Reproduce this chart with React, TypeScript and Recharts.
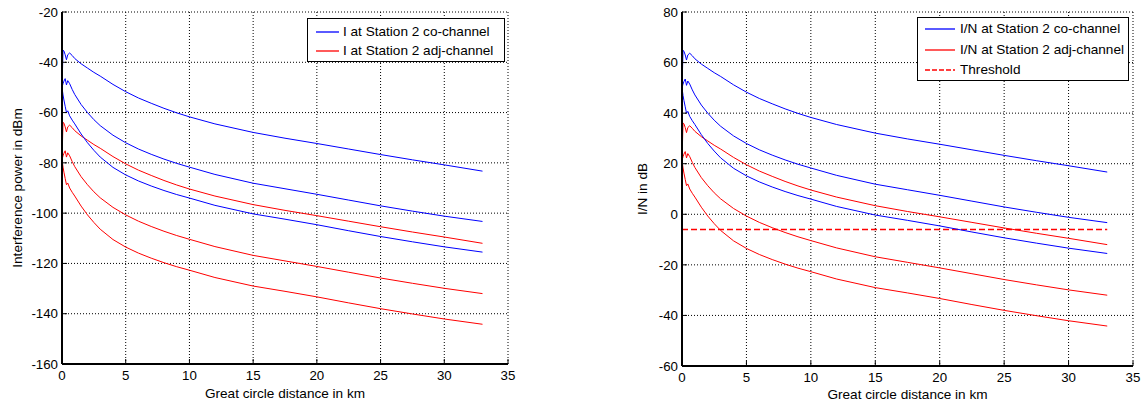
import React from 'react';
import { LineChart, Line, XAxis, YAxis, CartesianGrid, Legend } from 'recharts';

// Great circle distance (km)
const DISTANCE_KM = [0, 0.08, 0.15, 0.25, 0.35, 0.45, 0.6, 0.8, 1, 1.5, 2, 2.5, 3, 4, 5, 6, 7, 8, 9, 10, 12, 15, 17.5, 20, 22.5, 25, 27.5, 30, 33];

// Interference power at Station 2 (dBm) - co-channel (three cases)
const I_CO_1 = [-50, -35.2, -35.5, -37, -39, -37, -36.3, -37.3, -38.5, -40.6, -42.3, -44, -45.5, -48.8, -51.7, -54.2, -56.3, -58.3, -60.1, -61.7, -64.5, -67.9, -70.2, -72.3, -74.5, -76.7, -78.8, -80.8, -83.3];
const I_CO_2 = [-50, -48.5, -47.5, -46.5, -49, -47.3, -48.5, -50.8, -52.8, -56.8, -60, -62.8, -65.2, -69, -72, -74.5, -76.6, -78.5, -80.2, -81.7, -84.6, -88.1, -90.3, -92.5, -94.8, -97.1, -99.2, -101.2, -103.3];
const I_CO_3 = [-50, -53, -55, -57.5, -60, -59.3, -61.3, -63, -64.5, -68.5, -72, -75, -77.7, -81.8, -84.8, -87.2, -89.2, -91, -92.6, -94, -96.9, -100.3, -102.4, -104.6, -107, -109.3, -111.4, -113.4, -115.5];
// Interference power at Station 2 (dBm) - adjacent channel
const I_ADJ_1 = [-78.7, -63.9, -64.2, -65.7, -67.7, -65.7, -65.0, -66.0, -67.2, -69.3, -71.0, -72.7, -74.2, -77.5, -80.4, -82.9, -85.0, -87.0, -88.8, -90.4, -93.2, -96.6, -98.9, -101.0, -103.2, -105.4, -107.5, -109.5, -112.0];
const I_ADJ_2 = [-78.7, -77.2, -76.2, -75.2, -77.7, -76.0, -77.2, -79.5, -81.5, -85.5, -88.7, -91.5, -93.9, -97.7, -100.7, -103.2, -105.3, -107.2, -108.9, -110.4, -113.3, -116.8, -119.0, -121.2, -123.5, -125.8, -127.9, -129.9, -132.0];
const I_ADJ_3 = [-78.7, -81.7, -83.7, -86.2, -88.7, -88.0, -90.0, -91.7, -93.2, -97.2, -100.7, -103.7, -106.4, -110.5, -113.5, -115.9, -117.9, -119.7, -121.3, -122.7, -125.6, -129.0, -131.1, -133.3, -135.7, -138.0, -140.1, -142.1, -144.2];

// I/N at Station 2 (dB)
const IN_CO_1 = [50, 64.8, 64.5, 63, 61, 63, 63.7, 62.7, 61.5, 59.4, 57.7, 56, 54.5, 51.2, 48.3, 45.8, 43.7, 41.7, 39.9, 38.3, 35.5, 32.1, 29.8, 27.7, 25.5, 23.3, 21.2, 19.2, 16.7];
const IN_CO_2 = [50, 51.5, 52.5, 53.5, 51, 52.7, 51.5, 49.2, 47.2, 43.2, 40, 37.2, 34.8, 31, 28, 25.5, 23.4, 21.5, 19.8, 18.3, 15.4, 11.9, 9.7, 7.5, 5.2, 2.9, 0.8, -1.2, -3.3];
const IN_CO_3 = [50, 47, 45, 42.5, 40, 40.7, 38.7, 37, 35.5, 31.5, 28, 25, 22.3, 18.2, 15.2, 12.8, 10.8, 9, 7.4, 6, 3.1, -0.3, -2.4, -4.6, -7, -9.3, -11.4, -13.4, -15.5];
const IN_ADJ_1 = [21.3, 36.1, 35.8, 34.3, 32.3, 34.3, 35.0, 34.0, 32.8, 30.7, 29.0, 27.3, 25.8, 22.5, 19.6, 17.1, 15.0, 13.0, 11.2, 9.6, 6.8, 3.4, 1.1, -1.0, -3.2, -5.4, -7.5, -9.5, -12.0];
const IN_ADJ_2 = [21.3, 22.8, 23.8, 24.8, 22.3, 24.0, 22.8, 20.5, 18.5, 14.5, 11.3, 8.5, 6.1, 2.3, -0.7, -3.2, -5.3, -7.2, -8.9, -10.4, -13.3, -16.8, -19.0, -21.2, -23.5, -25.8, -27.9, -29.9, -32.0];
const IN_ADJ_3 = [21.3, 18.3, 16.3, 13.8, 11.3, 12.0, 10.0, 8.3, 6.8, 2.8, -0.7, -3.7, -6.4, -10.5, -13.5, -15.9, -17.9, -19.7, -21.3, -22.7, -25.6, -29.0, -31.1, -33.3, -35.7, -38.0, -40.1, -42.1, -44.2];

const THRESHOLD_DIST = [0, 33];
const THRESHOLD_DB = [-6, -6];

const X_TICKS = [0, 5, 10, 15, 20, 25, 30, 35];
const Y_TICKS_LEFT = [-160, -140, -120, -100, -80, -60, -40, -20];
const Y_TICKS_RIGHT = [-60, -40, -20, 0, 20, 40, 60, 80];

const LEFT_NAMES = ['I at Station 2 co-channel', 'I at Station 2 adj-channel'];
const RIGHT_NAMES = ['I/N at Station 2 co-channel', 'I/N at Station 2 adj-channel', 'Threshold'];

const leftRows = DISTANCE_KM.map((d, i) => ({
  d, co1: I_CO_1[i], co2: I_CO_2[i], co3: I_CO_3[i], adj1: I_ADJ_1[i], adj2: I_ADJ_2[i], adj3: I_ADJ_3[i],
}));
const rightRows = DISTANCE_KM.map((d, i) => ({
  d, co1: IN_CO_1[i], co2: IN_CO_2[i], co3: IN_CO_3[i], adj1: IN_ADJ_1[i], adj2: IN_ADJ_2[i], adj3: IN_ADJ_3[i],
}));
const thresholdRows = THRESHOLD_DIST.map((d, i) => ({ d, thr: THRESHOLD_DB[i] }));

const FONT = '"Liberation Sans", Arial, Helvetica, sans-serif';
const BLUE = '#0000ff';
const RED = '#ff0000';
const tickStyle = { fill: '#000', fontSize: 13.3, fontFamily: FONT };

const makeLegend = (order: string[], opts: any) => (props: any) => {
  const items = (props.payload || [])
    .filter((p: any) => order.indexOf(p.value) >= 0)
    .sort((a: any, b: any) => order.indexOf(a.value) - order.indexOf(b.value));
  return (
    <div style={{
      width: opts.width, height: opts.height, boxSizing: 'border-box', border: '1px solid #000',
      background: '#fff', paddingTop: opts.padTop, fontFamily: FONT, fontSize: 13.6, color: '#000',
    }}>
      {items.map((p: any) => {
        const ly = Math.round(opts.rowH / 2);
        return (
          <div key={p.value} style={{ display: 'flex', alignItems: 'center', height: opts.rowH, whiteSpace: 'nowrap' }}>
            <svg width={opts.padLeft + opts.lineLen + opts.gap} height={opts.rowH} style={{ display: 'block', flex: 'none' }}>
              <line x1={opts.padLeft} x2={opts.padLeft + opts.lineLen} y1={ly} y2={ly}
                stroke={p.color} strokeWidth={1.3}
                strokeDasharray={p.payload && p.payload.strokeDasharray ? '5 2' : undefined} />
            </svg>
            <span style={{ lineHeight: opts.rowH + 'px' }}>{p.value}</span>
          </div>
        );
      })}
    </div>
  );
};

const yLabel = (text: string, dx: number) => (props: any) => {
  const vb = props.viewBox || {};
  const cx = vb.x + dx;
  const cy = vb.y + vb.height / 2;
  return (
    <text x={cx} y={cy} transform={`rotate(-90, ${cx}, ${cy})`} textAnchor="middle" dominantBaseline="central"
      fill="#000" fontSize={13.6} fontFamily={FONT}>{text}</text>
  );
};

const xLabel = (text: string, dy: number) => (props: any) => {
  const vb = props.viewBox || {};
  return (
    <text x={vb.x + vb.width / 2} y={vb.y + dy} textAnchor="middle" fill="#000" fontSize={13.6} fontFamily={FONT}>{text}</text>
  );
};

const frameAxes = (yDomain: number[], yTicks: number[]) => [
  <XAxis key="xt" xAxisId="xt" orientation="top" type="number" domain={[0, 35]} ticks={X_TICKS} interval={0}
    height={0} tick={false} tickSize={-5} axisLine={{ stroke: '#000', strokeWidth: 2 }} tickLine={{ stroke: '#000' }} allowDataOverflow />,
  <YAxis key="yr" yAxisId="yr" orientation="right" type="number" domain={yDomain} ticks={yTicks} interval={0}
    width={0} tick={false} tickSize={-5} axisLine={{ stroke: '#000', strokeWidth: 2 }} tickLine={{ stroke: '#000' }} allowDataOverflow />,
];

export default function App() {
  return (
    <div style={{ position: 'absolute', left: 0, top: 0, width: 1141, height: 405, background: '#fff', overflow: 'hidden' }}>
      <div style={{ position: 'absolute', left: 0, top: 0 }}>
        <LineChart width={520} height={405} data={leftRows} margin={{ top: 12, right: 12, bottom: 0, left: 0 }}>
          <CartesianGrid xAxisId="x" yAxisId="y" stroke="#000" strokeDasharray="1 2" />
          <XAxis xAxisId="x" dataKey="d" type="number" domain={[0, 35]} ticks={X_TICKS} interval={0} height={41}
            tick={tickStyle} tickSize={-5} tickMargin={12} axisLine={{ stroke: '#000', strokeWidth: 2 }} tickLine={{ stroke: '#000' }}
            label={{ content: xLabel('Great circle distance in km', 34) }} allowDataOverflow />
          <YAxis yAxisId="y" type="number" domain={[-160, -20]} ticks={Y_TICKS_LEFT} interval={0} width={62}
            tick={tickStyle} tickSize={-5} tickMargin={9} axisLine={{ stroke: '#000', strokeWidth: 2 }} tickLine={{ stroke: '#000' }}
            label={{ content: yLabel('Interference power in dBm', 17) }} allowDataOverflow />
          {frameAxes([-160, -20], Y_TICKS_LEFT)}
          <Line xAxisId="x" yAxisId="y" type="linear" dataKey="co1" name={LEFT_NAMES[0]} stroke={BLUE} strokeWidth={1} dot={false} activeDot={false} isAnimationActive={false} />
          <Line xAxisId="x" yAxisId="y" type="linear" dataKey="adj1" name={LEFT_NAMES[1]} stroke={RED} strokeWidth={1} dot={false} activeDot={false} isAnimationActive={false} />
          <Line xAxisId="x" yAxisId="y" type="linear" dataKey="co2" legendType="none" stroke={BLUE} strokeWidth={1} dot={false} activeDot={false} isAnimationActive={false} />
          <Line xAxisId="x" yAxisId="y" type="linear" dataKey="co3" legendType="none" stroke={BLUE} strokeWidth={1} dot={false} activeDot={false} isAnimationActive={false} />
          <Line xAxisId="x" yAxisId="y" type="linear" dataKey="adj2" legendType="none" stroke={RED} strokeWidth={1} dot={false} activeDot={false} isAnimationActive={false} />
          <Line xAxisId="x" yAxisId="y" type="linear" dataKey="adj3" legendType="none" stroke={RED} strokeWidth={1} dot={false} activeDot={false} isAnimationActive={false} />
          <Legend layout="vertical" align="center" verticalAlign="middle"
            wrapperStyle={{ left: 307, top: 18, width: 198, height: 44 }}
            content={makeLegend(LEFT_NAMES, { width: 198, height: 44, padTop: 3, rowH: 19.4, padLeft: 8, lineLen: 23, gap: 4 })} />
        </LineChart>
      </div>
      <div style={{ position: 'absolute', left: 600, top: 0 }}>
        <LineChart width={541} height={405} data={rightRows} margin={{ top: 12, right: 8, bottom: 0, left: 0 }}>
          <CartesianGrid xAxisId="x" yAxisId="y" stroke="#000" strokeDasharray="1 2" />
          <XAxis xAxisId="x" dataKey="d" type="number" domain={[0, 35]} ticks={X_TICKS} interval={0} height={39}
            tick={tickStyle} tickSize={-5} tickMargin={12} axisLine={{ stroke: '#000', strokeWidth: 2 }} tickLine={{ stroke: '#000' }}
            label={{ content: xLabel('Great circle distance in km', 33) }} allowDataOverflow />
          <YAxis yAxisId="y" type="number" domain={[-60, 80]} ticks={Y_TICKS_RIGHT} interval={0} width={82}
            tick={tickStyle} tickSize={-5} tickMargin={9} axisLine={{ stroke: '#000', strokeWidth: 2 }} tickLine={{ stroke: '#000' }}
            label={{ content: yLabel('I/N in dB', 42) }} allowDataOverflow />
          {frameAxes([-60, 80], Y_TICKS_RIGHT)}
          <Line xAxisId="x" yAxisId="y" type="linear" dataKey="co1" name={RIGHT_NAMES[0]} stroke={BLUE} strokeWidth={1} dot={false} activeDot={false} isAnimationActive={false} />
          <Line xAxisId="x" yAxisId="y" type="linear" dataKey="adj1" name={RIGHT_NAMES[1]} stroke={RED} strokeWidth={1} dot={false} activeDot={false} isAnimationActive={false} />
          <Line xAxisId="x" yAxisId="y" type="linear" data={thresholdRows} dataKey="thr" name={RIGHT_NAMES[2]} stroke={RED} strokeWidth={1.5} strokeDasharray="6 3" dot={false} activeDot={false} isAnimationActive={false} />
          <Line xAxisId="x" yAxisId="y" type="linear" dataKey="co2" legendType="none" stroke={BLUE} strokeWidth={1} dot={false} activeDot={false} isAnimationActive={false} />
          <Line xAxisId="x" yAxisId="y" type="linear" dataKey="co3" legendType="none" stroke={BLUE} strokeWidth={1} dot={false} activeDot={false} isAnimationActive={false} />
          <Line xAxisId="x" yAxisId="y" type="linear" dataKey="adj2" legendType="none" stroke={RED} strokeWidth={1} dot={false} activeDot={false} isAnimationActive={false} />
          <Line xAxisId="x" yAxisId="y" type="linear" dataKey="adj3" legendType="none" stroke={RED} strokeWidth={1} dot={false} activeDot={false} isAnimationActive={false} />
          <Legend layout="vertical" align="center" verticalAlign="middle"
            wrapperStyle={{ left: 317, top: 17, width: 212, height: 64 }}
            content={makeLegend(RIGHT_NAMES, { width: 212, height: 64, padTop: 1, rowH: 20.5, padLeft: 7, lineLen: 30, gap: 5 })} />
        </LineChart>
      </div>
    </div>
  );
}
